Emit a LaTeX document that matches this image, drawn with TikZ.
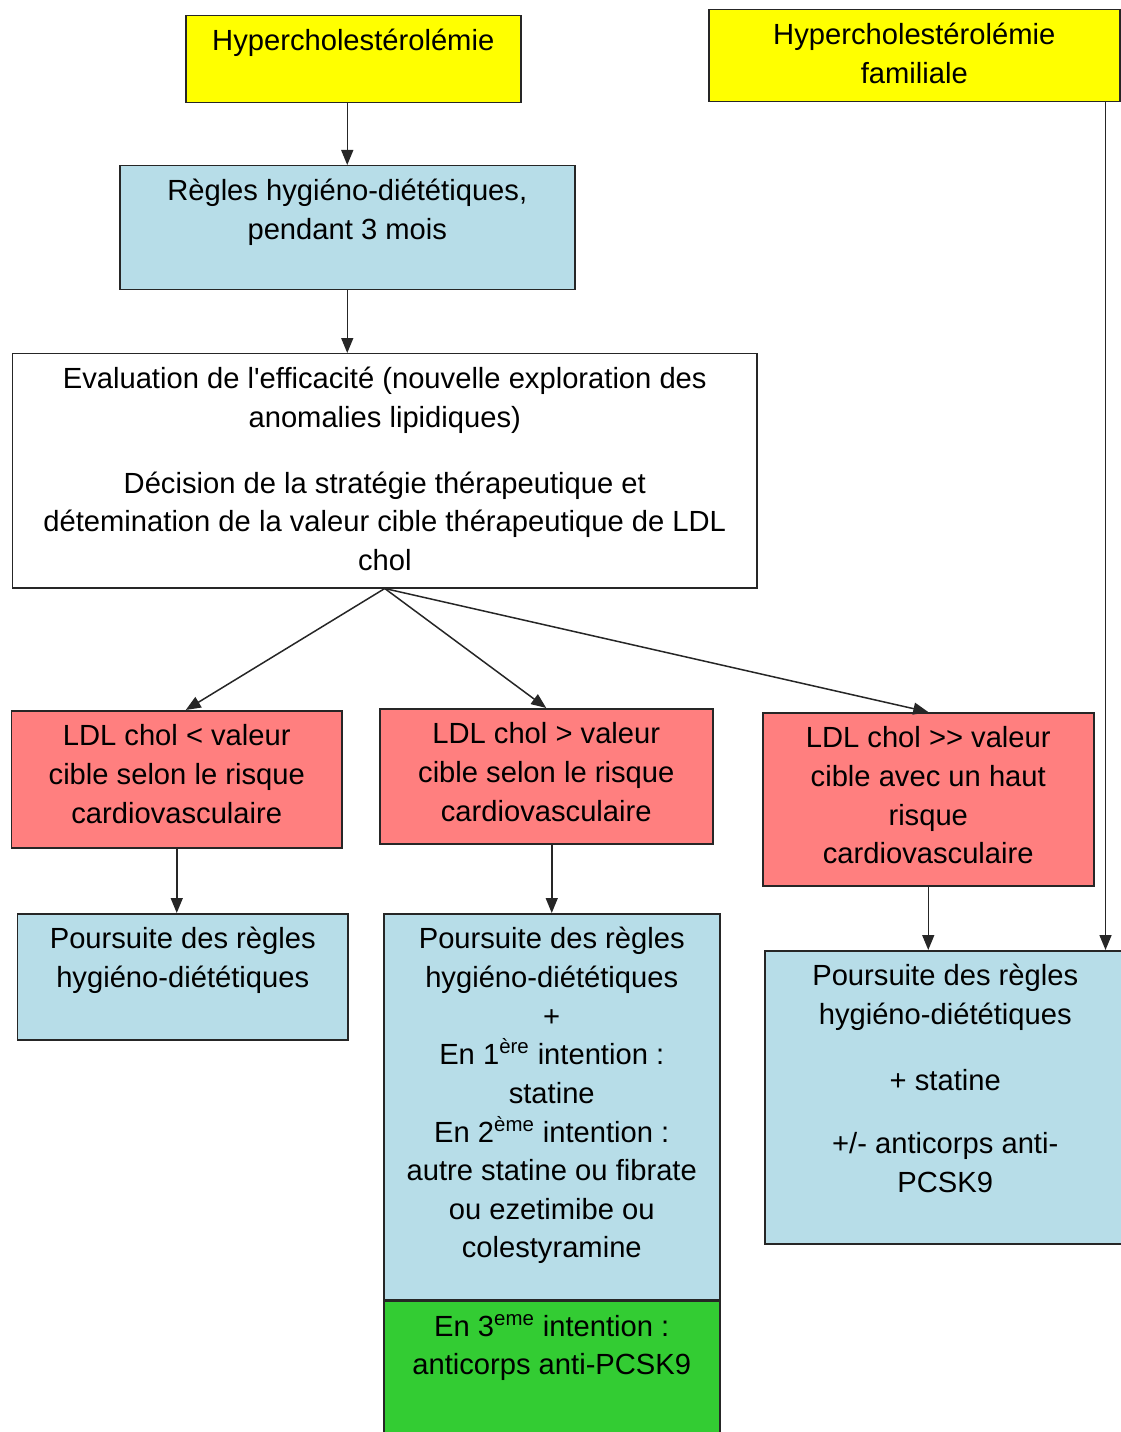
\documentclass[tikz,border=0pt]{standalone}
\usepackage{fontspec}
\setmainfont{Liberation Sans}
\usetikzlibrary{arrows.meta}
\definecolor{hyellow}{HTML}{FFFF00}
\definecolor{lblue}{HTML}{B7DDE8}
\definecolor{lred}{HTML}{FF7F7F}
\definecolor{lgreen}{HTML}{33CC33}
\newlength\pxu \setlength\pxu{0.02cm}
% box text: width, height (px), lines
\newcommand\cell[3]{\parbox[c][#2\pxu][t]{#1\pxu}{\centering\fontsize{16.6}{22}\selectfont\rule{0pt}{35\pxu}#3\par}}
\begin{document}
\begin{tikzpicture}[x=0.02cm,y=-0.02cm,
  box/.style={draw=black!85,line width=0.03cm,inner sep=0pt,anchor=north west},
  arr/.style={-{Triangle[length=0.3cm,width=0.24cm]},line width=0.03cm,draw=black!85}]
\useasboundingbox (0,0) rectangle (1121,1432);
\node[box,fill=hyellow] (hc) at (185,15) {\cell{335}{87}{Hypercholestérolémie}};
\node[box,fill=hyellow] (hf) at (708,9) {\cell{411}{92}{Hypercholestérolémie\\familiale}};
\node[box,fill=lblue] (rhd) at (119,165) {\cell{455}{124}{Règles hygiéno-diététiques,\\pendant 3 mois}};
\node[box,fill=white] (eval) at (12,353) {\cell{744}{234}{Evaluation de l\textquotesingle efficacité (nouvelle exploration des\\anomalies lipidiques)\\[27\pxu]Décision de la stratégie thérapeutique et\\détemination de la valeur cible thérapeutique de LDL\\chol}};
\node[box,fill=lred] (ldla) at (11,710) {\cell{330}{137}{LDL chol < valeur\\cible selon le risque\\cardiovasculaire}};
\node[box,fill=lred] (ldlb) at (379,708) {\cell{333}{135}{LDL chol > valeur\\cible selon le risque\\cardiovasculaire}};
\node[box,fill=lred] (ldlc) at (762,712) {\cell{331}{173}{LDL chol >\kern0pt> valeur\\cible avec un haut\\risque\\cardiovasculaire}};
\node[box,fill=lblue] (pa) at (17,913) {\cell{330}{126}{Poursuite des règles\\hygiéno-diététiques}};
\node[box,fill=lblue] (pb) at (383,913) {\cell{336}{386}{Poursuite des règles\\hygiéno-diététiques\\+\\En 1\textsuperscript{ère} intention :\\statine\\En 2\textsuperscript{ème} intention :\\autre statine ou fibrate\\ou ezetimibe ou\\colestyramine}};
\node[box,fill=lgreen] (pbg) at (pb.south west) {\cell{336}{140}{En 3\textsuperscript{eme} intention :\\anticorps anti-PCSK9}};
\node[box,fill=lblue] (pc) at (764,950) {\cell{361}{293}{Poursuite des règles\\hygiéno-diététiques\\[27\pxu]+ statine\\[25\pxu]+/- anticorps anti-\\PCSK9}};
\coordinate (fam) at ([xshift=-0.3cm]hf.south east);
\draw[arr] (rhd.north |- hc.south) -- (rhd.north);
\draw[arr] (rhd.south) -- (rhd.south |- eval.north);
\draw[arr] (eval.south) -- ([xshift=0.18cm]ldla.north);
\draw[arr] (eval.south) -- (ldlb.north);
\draw[arr] (eval.south) -- (ldlc.north);
\draw[arr] (ldla.south) -- (ldla.south |- pa.north);
\draw[arr] (pb.north |- ldlb.south) -- (pb.north);
\draw[arr] (ldlc.south) -- (ldlc.south |- pc.north);
\draw[arr] (fam) -- (fam |- pc.north);
\end{tikzpicture}
\end{document}
